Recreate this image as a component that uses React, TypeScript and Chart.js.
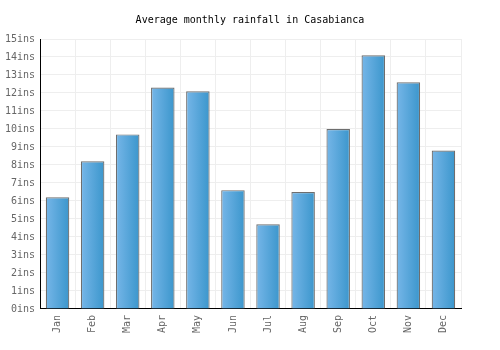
import React, { useEffect, useRef } from "react";
import { Chart, registerables } from "chart.js";

Chart.register(...registerables);

const months = ["Jan", "Feb", "Mar", "Apr", "May", "Jun", "Jul", "Aug", "Sep", "Oct", "Nov", "Dec"];
const rainfall = [6.2, 8.2, 9.7, 12.3, 12.1, 6.6, 4.7, 6.5, 10.0, 14.1, 12.6, 8.8];
const titleText = "Average monthly rainfall in Casabianca";
const unit = "ins";

const FONT = "'DejaVu Sans Mono', 'Liberation Mono', monospace";
const BAR_PCT = 0.67;

export default function App() {
  const ref = useRef<HTMLCanvasElement>(null);
  useEffect(() => {
    const canvas = ref.current!;
    const chart = new Chart(canvas, {
      type: "bar",
      data: {
        labels: months,
        datasets: [
          {
            data: rainfall,
            backgroundColor: (ctx: any) => {
              const c = ctx.chart;
              const xs = c.scales?.x;
              if (!c.chartArea || !xs || ctx.dataIndex === undefined) return "#56a6dc";
              const cx = xs.getPixelForValue(ctx.dataIndex);
              const hw = (xs.width / months.length) * BAR_PCT / 2;
              const g = c.ctx.createLinearGradient(cx - hw, 0, cx + hw, 0);
              g.addColorStop(0, "#76b6e8");
              g.addColorStop(1, "#3b96cc");
              return g;
            },
            borderColor: "#6e6e6e",
            borderWidth: 1.2,
            barPercentage: BAR_PCT,
            categoryPercentage: 1,
          },
        ],
      },
      options: {
        animation: false,
        responsive: true,
        maintainAspectRatio: false,
        layout: { padding: { left: 0, right: 0, top: 0, bottom: 11 } },
        plugins: {
          legend: { display: false },
          tooltip: { enabled: false },
          title: {
            display: true,
            text: titleText,
            color: "#000",
            font: { family: FONT, size: 10, weight: "normal" },
            padding: { top: 14, bottom: 13 },
          },
        },
        scales: {
          x: {
            offset: true,
            grid: { color: "#eeeeee", drawTicks: false, offset: true },
            border: { color: "#000", width: 1 },
            ticks: {
              color: "#666",
              font: { family: FONT, size: 10 },
              maxRotation: 90,
              minRotation: 90,
              padding: 6,
            },
          },
          y: {
            min: 0,
            max: 15,
            grid: { color: "#eeeeee", drawTicks: false },
            border: { color: "#000", width: 1 },
            ticks: {
              stepSize: 1,
              color: "#666",
              font: { family: FONT, size: 10 },
              padding: 5,
              callback: (v: any) => v + unit,
            },
            afterFit: (s: any) => {
              s.width = 40;
            },
          },
          yRight: {
            position: "right",
            display: true,
            grid: { display: false, drawTicks: false },
            border: { display: false },
            ticks: { display: false },
            afterFit: (s: any) => {
              s.width = 39;
            },
          },
        },
      },
    });
    return () => chart.destroy();
  }, []);
  return (
    <div style={{ position: "absolute", left: 0, top: 0, width: 500, height: 350 }}>
      <canvas ref={ref} />
    </div>
  );
}
